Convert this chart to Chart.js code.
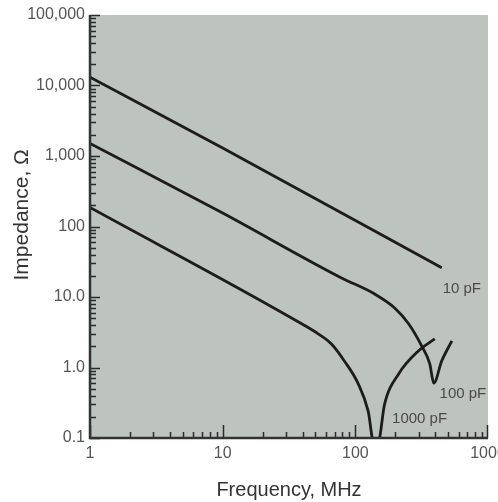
<!DOCTYPE html>
<html lang="en">
<head>
    <meta charset="UTF-8">
    <title>Impedance vs frequency</title>
    <script src="https://cdn.jsdelivr.net/npm/chart.js"></script>
    <style>
        html, body { margin: 0; padding: 0; background: #fff; }
        #wrap { width: 498px; height: 502px; }
    </style>
</head>
<body>
<div id="wrap"><canvas id="chart" width="498" height="502"></canvas></div>
<script>
    // Werte (Frequenz in MHz, Impedanz in Ohm)
    const freq10 = [1, 10, 448];
    const imp10 = [13100, 1300, 26];

    const freq100 = [1, 10, 78, 139, 197, 252, 316, 364, 390, 448, 534];
    const imp100 = [1510, 155, 18.8, 11.1, 7.05, 4.18, 2.03, 1.13, 0.6, 1.24, 2.39];

    const freq1000 = [1, 40, 52.5, 65.8, 82.6, 105, 125, 137, 149, 166, 212, 300, 397];
    const imp1000 = [186, 4.1, 3.0, 2.17, 1.24, 0.59, 0.24, 0.09, 0.09, 0.3, 0.81, 1.73, 2.55];

    const seriesNames = ['10 pF', '100 pF', '1000 pF'];
    const nameFreqs = [635, 647, 305];
    const nameImps = [13.1, 0.42, 0.186];

    const xTicks = [1, 10, 100, 1000];
    const xTickLabels = ['1', '10', '100', '1000'];
    const yTicks = [0.1, 1, 10, 100, 1000, 10000, 100000];
    const yTickLabels = ['0.1', '1.0', '10.0', '100', '1,000', '10,000', '100,000'];

    const toPoints = (xs, ys) => xs.map((v, i) => ({ x: v, y: ys[i] }));
    const fontFamily = '"Liberation Sans", Arial, sans-serif';

    const frame = {
        id: 'frame',
        beforeDraw(chart) {
            const { ctx, chartArea: a } = chart;
            ctx.save();
            ctx.fillStyle = '#bdc4c0';
            ctx.fillRect(a.left, a.top, a.right - a.left, a.bottom - a.top);
            ctx.restore();
        },
        afterDraw(chart) {
            const { ctx, chartArea: a, scales: { x, y } } = chart;
            ctx.save();
            ctx.strokeStyle = '#2a2a2a';
            ctx.lineWidth = 1.5;
            ctx.beginPath();
            // Striche an der y-Achse (nach innen)
            for (let d = -1; d < 5; d++) {
                for (let m = 1; m < 10; m++) {
                    const py = Math.round(y.getPixelForValue(m * Math.pow(10, d))) + 0.5;
                    const len = m === 1 ? 10 : 6;
                    ctx.moveTo(a.left, py);
                    ctx.lineTo(a.left + len, py);
                }
            }
            const topY = Math.round(y.getPixelForValue(100000)) + 0.5;
            ctx.moveTo(a.left, topY);
            ctx.lineTo(a.left + 10, topY);
            // Striche an der x-Achse (nach oben)
            for (let d = 0; d < 3; d++) {
                for (let m = 1; m < 10; m++) {
                    const px = Math.round(x.getPixelForValue(m * Math.pow(10, d))) + 0.5;
                    const len = m === 1 ? 13 : 6;
                    ctx.moveTo(px, a.bottom);
                    ctx.lineTo(px, a.bottom - len);
                }
            }
            const endX = Math.round(x.getPixelForValue(1000)) - 0.5;
            ctx.moveTo(endX, a.bottom);
            ctx.lineTo(endX, a.bottom - 13);
            ctx.stroke();

            // Achsenlinien
            ctx.lineWidth = 2.5;
            ctx.strokeStyle = '#333';
            ctx.beginPath();
            ctx.moveTo(a.left, a.top);
            ctx.lineTo(a.left, a.bottom);
            ctx.lineTo(a.right, a.bottom);
            ctx.stroke();

            // Beschriftung der Kurven
            ctx.fillStyle = '#4a4a4a';
            ctx.font = '15px ' + fontFamily;
            ctx.textAlign = 'center';
            ctx.textBaseline = 'middle';
            seriesNames.forEach((name, i) => {
                ctx.fillText(name, x.getPixelForValue(nameFreqs[i]), y.getPixelForValue(nameImps[i]));
            });
            ctx.restore();
        }
    };

    const lineStyle = {
        borderColor: '#1c1c1c',
        borderWidth: 2.8,
        pointRadius: 0,
        fill: false,
        cubicInterpolationMode: 'monotone'
    };

    new Chart(document.getElementById('chart'), {
        type: 'line',
        data: {
            datasets: [
                { label: seriesNames[0], data: toPoints(freq10, imp10), ...lineStyle },
                { label: seriesNames[1], data: toPoints(freq100, imp100), ...lineStyle },
                { label: seriesNames[2], data: toPoints(freq1000, imp1000), ...lineStyle }
            ]
        },
        options: {
            responsive: false,
            animation: false,
            layout: { padding: { top: 15, right: 10, left: 0, bottom: 0 }, autoPadding: false },
            plugins: {
                legend: { display: false },
                tooltip: { enabled: false }
            },
            scales: {
                x: {
                    type: 'logarithmic',
                    min: 1,
                    max: 1000,
                    grid: { display: false, drawTicks: false, tickLength: 0 },
                    border: { display: false },
                    afterBuildTicks: s => { s.ticks = xTicks.map(v => ({ value: v })); },
                    afterFit: s => { s.height = 64; s.paddingLeft = 0; s.paddingRight = 0; },
                    ticks: {
                        padding: 6,
                        maxRotation: 0,
                        autoSkip: false,
                        color: '#555',
                        font: { family: fontFamily, size: 16 },
                        callback: (v) => xTickLabels[xTicks.indexOf(v)]
                    },
                    title: {
                        display: true,
                        text: 'Frequency, MHz',
                        color: '#333',
                        padding: { top: 4, bottom: 0 },
                        font: { family: fontFamily, size: 20 }
                    }
                },
                y: {
                    type: 'logarithmic',
                    min: 0.1,
                    max: 100000,
                    grid: { display: false, drawTicks: false, tickLength: 0 },
                    border: { display: false },
                    afterBuildTicks: s => { s.ticks = yTicks.map(v => ({ value: v })); },
                    afterFit: s => { s.width = 90; s.paddingTop = 0; s.paddingBottom = 0; },
                    ticks: {
                        padding: 5,
                        autoSkip: false,
                        color: '#555',
                        font: { family: fontFamily, size: 16 },
                        callback: (v) => yTickLabels[yTicks.indexOf(v)]
                    },
                    title: {
                        display: true,
                        text: '\u00a0\u00a0\u00a0\u00a0Impedance, Ω',
                        color: '#333',
                        padding: { top: 10, bottom: 0 },
                        font: { family: fontFamily, size: 21 }
                    }
                }
            }
        },
        plugins: [frame]
    });
</script>
</body>
</html>
